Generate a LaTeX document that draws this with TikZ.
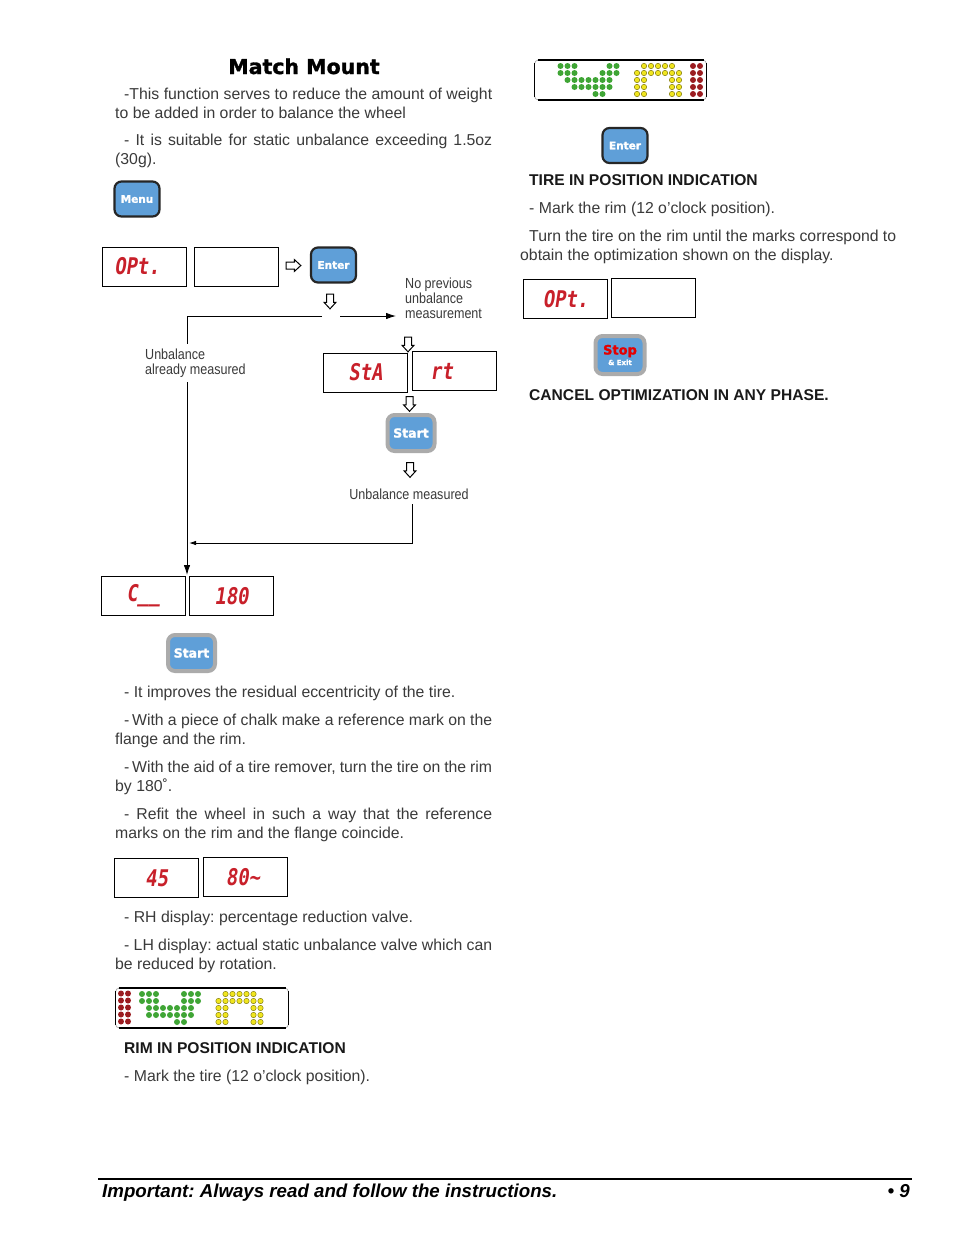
\documentclass[tikz,border=0pt]{standalone}
\usepackage{fontspec}
\usetikzlibrary{shapes.arrows,arrows.meta}
\setmainfont{Liberation Sans}
\newfontfamily\narf[FakeStretch=0.86]{Liberation Sans}
\newfontfamily\heavyf[FakeBold=1.5]{DejaVu Sans Bold}
\newfontfamily\ledf[FakeSlant=0.15,FakeStretch=0.82]{DejaVu Sans Mono Bold}
\frenchspacing
\definecolor{txt}{HTML}{3A3A3A}
\definecolor{btn}{HTML}{5F9FD8}
\definecolor{ledred}{HTML}{C8202A}
\definecolor{dgreen}{HTML}{3FA535}
\definecolor{dyellow}{HTML}{F0E51E}
\definecolor{dred}{HTML}{9B1C20}
\definecolor{rim}{HTML}{ABABAB}
\tikzset{
  body/.style={anchor=base west,inner sep=0pt,yshift=-0.7pt,text=txt,font=\fontsize{15.8}{15.8}\selectfont},
  heading/.style={anchor=base west,inner sep=0pt,text=black!90,font=\fontsize{15.6}{15.6}\selectfont\bfseries},
  narrow/.style={anchor=base west,inner sep=0pt,text=txt,font=\narf\fontsize{14.6}{15.2}\selectfont},
  display/.style={draw=black,line width=1pt,minimum width=84pt,minimum height=39pt,inner sep=0pt,text=ledred,font=\ledf\fontsize{23}{23}\selectfont},
  btnA/.style={draw=black!85,fill=btn,line width=2.2pt,rounded corners=7pt,minimum width=45pt,minimum height=35pt,inner sep=0pt,text=white,font=\heavyf\fontsize{10.5}{10.5}\selectfont},
  btnB/.style={draw=rim,fill=btn,line width=4pt,rounded corners=7pt,minimum width=47pt,minimum height=36pt,inner sep=0pt,text=white,font=\heavyf\fontsize{12.5}{12.5}\selectfont},
  hollow/.style={draw=black,fill=white,line width=1pt,single arrow,text height=6pt,text depth=0pt,text width=10pt,single arrow head extend=2.5pt,single arrow tip angle=85,inner sep=0pt},
  flow/.style={draw=black,line width=0.9pt},
  flowtip/.style={flow,-{Latex[length=10pt,width=6.5pt]}},
  framegray/.style={draw=black!35,line width=.7pt,rounded corners=4pt},
  frameblack/.style={draw=black,line width=1.2pt},
  led/.style={radius=3pt}
}
% justified single line
\newcommand{\jline}[5]{\node[body] (#1) at (#2,#3) {\makebox[#4pt][s]{#5}};}
\newcommand{\dotrow}[4]{\foreach \c in {#4} {\fill[#1,led] ({#2+7*\c},#3) circle;}}
\newcommand{\ydotrow}[3]{\foreach \c in {#3} {\filldraw[fill=dyellow,draw=black!45!dyellow,line width=.5pt,radius=2.7pt] ({#1+7*\c},#2) circle;}}
\newcommand{\ledbar}[4]{%
  \draw[framegray] (#1,#2) rectangle (#3,#4);
  \draw[frameblack] ({#1+3},#2) -- ({#3-3},#2);
  \draw[frameblack] ({#1+3},#4) -- ({#3-3},#4);
  \draw[frameblack] (#1,{#2+3}) -- (#1,{#4-3});
  \draw[frameblack] (#3,{#2+3}) -- (#3,{#4-3});}
\begin{document}
\begin{tikzpicture}[x=1pt,y=-1pt]
\useasboundingbox[fill=white] (0,0) rectangle (954,1235);

% ---------- left column, top
\node[anchor=base,inner sep=0pt,text=black,font=\heavyf\fontsize{20.5}{20.5}\selectfont] (title) at (304,74) {Match Mount};
\jline{a1}{124}{98.5}{368}{-This function serves to reduce the amount of weight}
\node[body] (a2) at (115,117.5) {to be added in order to balance the wheel};
\jline{a3}{124}{145}{368}{- It is suitable for static unbalance exceeding 1.5oz}
\node[body] (a4) at (115,164) {(30g).};

\node[btnA] (menu) at (137,199) {Menu};

% ---------- flow
\node[display] (opt1) at (144.5,267) {\raisebox{2pt}{OPt.}\kern 15pt};
\node[display] (blank1) at (236.5,267) {};
\node[hollow] (h1) at (291.5,265.5) {};
\node[btnA] (enter1) at (333.5,265) {Enter};
\node[hollow,rotate=-90] (h2) at (330,299.5) {};

\node[narrow,align=left,anchor=north west] (noprev) at (405,277.5) {No previous\\unbalance\\measurement};
\node[narrow,align=left,anchor=north west] (already) at (145,349) {Unbalance\\already measured};

\coordinate (corner) at (187,316);
\coordinate (gapL) at (322,316);
\coordinate (gapR) at (340,316);
\coordinate (noprevin) at (396,316);
\coordinate (upEnd) at (187,344);
\coordinate (lowStart) at (187,382);
\coordinate (cTop) at (187,575);
\draw[flow] (gapL) -- (corner) -- (upEnd);
\draw[flowtip] (gapR) -- (noprevin);
\draw[flowtip] (lowStart) -- (cTop);

\node[hollow,rotate=-90] (h3) at (408,342.5) {};
\node[display] (sta) at (365.5,373) {\raisebox{2pt}{StA}};
\node[display] (rt) at (454.5,371) {rt\kern 26pt};
\node[hollow,rotate=-90] (h4) at (409.5,402) {};
\node[btnB] (start1) at (411,433) {Start};
\node[hollow,rotate=-90] (h5) at (410,468) {};
\node[narrow,anchor=base] (measured) at (409,499) {Unbalance measured};

\coordinate (mOut) at (412,504);
\coordinate (mTurn) at (412,543);
\coordinate (mJoin) at (189,543);
\draw[flow,-{Latex[length=7pt,width=4.5pt]}] (mOut) -- (mTurn) -- (mJoin);

\node[display] (c1) at (143.5,596) {C\_\_};
\node[display] (c180) at (231.5,596) {180};
\node[btnB] (start2) at (191.5,653) {Start};

% ---------- left column, middle
\node[body] (b1) at (124,697) {- It improves the residual eccentricity of the tire.};
\jline{b2}{124}{725}{368}{-\,With a piece of chalk make a reference mark on the}
\node[body] (b3) at (115,744) {flange and the rim.};
\jline{b4}{124}{772}{368}{-\,With the aid of a tire remover, turn the tire on the rim}
\node[body] (b5) at (115,791) {by 180˚.};
\jline{b6}{124}{819}{368}{- Refit the wheel in such a way that the reference}
\node[body] (b7) at (115,838) {marks on the rim and the flange coincide.};

\node[display] (d45) at (156.5,878) {\raisebox{-2pt}{45}};
\node[display] (d80) at (245.5,877) {80\textasciitilde\kern 5pt};

\node[body] (b8) at (124,922) {- RH display: percentage reduction valve.};
\jline{b9}{124}{950}{368}{- LH display: actual static unbalance valve which can}
\node[body] (b10) at (115,969) {be reduced by rotation.};

% ---------- lower LED bar
\ledbar{115.5}{988}{288.5}{1028}
\dotrow{dred}{121}{993.5}{0,1}
\dotrow{dred}{121}{1000.5}{0,1}
\dotrow{dred}{121}{1007.5}{0,1}
\dotrow{dred}{121}{1014.5}{0,1}
\dotrow{dred}{121}{1021.5}{0,1}
\dotrow{dgreen}{142}{994}{0,1,2,6,7,8}
\dotrow{dgreen}{142}{1001}{0,1,2,6,7,8}
\dotrow{dgreen}{142}{1008}{1,2,3,4,5,6,7}
\dotrow{dgreen}{142}{1015}{1,2,3,4,5,6,7}
\dotrow{dgreen}{142}{1022}{5,6}
\ydotrow{218.5}{994}{1,2,3,4,5}
\ydotrow{218.5}{1001}{0,1,2,3,4,5,6}
\ydotrow{218.5}{1008}{0,1,5,6}
\ydotrow{218.5}{1015}{0,1,5,6}
\ydotrow{218.5}{1022}{0,1,5,6}

\node[heading] (rimh) at (124,1053) {RIM IN POSITION INDICATION};
\node[body] (rimt) at (124,1081) {- Mark the tire (12 o'clock position).};

% ---------- right column
\ledbar{534.5}{60}{706.5}{100}
\dotrow{dgreen}{560.5}{66}{0,1,2,7,8}
\dotrow{dgreen}{560.5}{73}{0,1,2,6,7,8}
\dotrow{dgreen}{560.5}{80}{1,2,3,4,5,6,7}
\dotrow{dgreen}{560.5}{87}{2,3,4,5,6,7}
\dotrow{dgreen}{560.5}{94}{5,6}
\ydotrow{637}{66}{1,2,3,4,5}
\ydotrow{637}{73}{0,1,2,3,4,5,6}
\ydotrow{637}{80}{0,1,5,6}
\ydotrow{637}{87}{0,1,5,6}
\ydotrow{637}{94}{0,1,5,6}
\dotrow{dred}{693}{66}{0,1}
\dotrow{dred}{693}{73}{0,1}
\dotrow{dred}{693}{80}{0,1}
\dotrow{dred}{693}{87}{0,1}
\dotrow{dred}{693}{94}{0,1}

\node[btnA] (enter2) at (625,145.5) {Enter};
\node[heading] (tireh) at (529,185) {TIRE IN POSITION INDICATION};
\node[body] (r1) at (529,213) {- Mark the rim (12 o'clock position).};
\jline{r2}{529}{241}{367}{Turn the tire on the rim until the marks correspond to}
\node[body] (r3) at (520,260) {obtain the optimization shown on the display.};

\node[display] (opt2) at (565.5,299) {OPt.};
\node[display] (blank2) at (653.5,298) {};
\node[btnB,minimum width=49pt,minimum height=38pt,align=center] (stop) at (620,355) {{\color{red!90!black}\fontsize{13}{13}\selectfont Stop}\\[-2pt]{\fontsize{7}{7}\selectfont \& Exit}};
\node[heading] (cancel) at (529,400) {CANCEL OPTIMIZATION IN ANY PHASE.};

% ---------- footer
\coordinate (ruleL) at (98,1179);
\coordinate (ruleR) at (912,1179);
\draw[draw=black,line width=2pt] (ruleL) -- (ruleR);
\node[anchor=base west,inner sep=0pt,text=black,font=\fontsize{18.7}{18.7}\selectfont\bfseries\itshape] (foot) at (102,1197) {Important: Always read and follow the instructions.};
\node[anchor=base east,inner sep=0pt,text=black,font=\fontsize{18.7}{18.7}\selectfont\bfseries\itshape] (page) at (910,1197) {• 9};
\end{tikzpicture}
\end{document}
